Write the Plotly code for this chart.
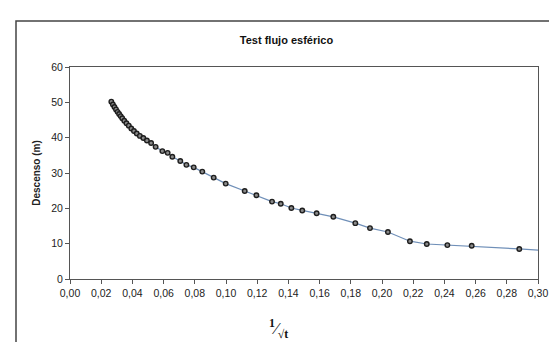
import plotly.graph_objects as go

inv_sqrt_t = [0.0265, 0.0275, 0.0285, 0.0295, 0.0305, 0.0315, 0.0325, 0.0335, 0.0348, 0.0362,
              0.0377, 0.0393, 0.0410, 0.0428, 0.0448, 0.0470, 0.0493, 0.0520, 0.0549, 0.0592,
              0.0626, 0.0656, 0.0707, 0.0746, 0.0793, 0.0848, 0.0921, 0.0998, 0.1120, 0.1195,
              0.1295, 0.1351, 0.1419, 0.1489, 0.1581, 0.1688, 0.1829, 0.1923, 0.2038, 0.2179,
              0.2287, 0.2419, 0.2575, 0.2880]
descenso = [50.2, 49.4, 48.7, 48.0, 47.3, 46.7, 46.1, 45.5, 44.8, 44.1,
            43.4, 42.6, 41.9, 41.2, 40.5, 39.9, 39.2, 38.5, 37.4, 36.2,
            35.7, 34.6, 33.4, 32.3, 31.6, 30.4, 28.7, 27.0, 24.9, 23.7,
            21.9, 21.3, 20.1, 19.4, 18.6, 17.6, 15.8, 14.4, 13.3, 10.7,
            9.9, 9.6, 9.4, 8.5]
line_x = inv_sqrt_t + [0.305]
line_y = descenso + [8.0]

x_ticks = [i * 0.02 for i in range(16)]
y_ticks = [0, 10, 20, 30, 40, 50, 60]

fig = go.Figure()
fig.add_trace(go.Scatter(x=line_x, y=line_y, mode="lines",
                         line=dict(color="#6f8fb8", width=1.2), hoverinfo="skip"))
fig.add_trace(go.Scatter(x=inv_sqrt_t, y=descenso, mode="markers",
                         marker=dict(symbol="circle", size=4.5, color="#8a8a8a",
                                     line=dict(color="#1e1e1e", width=1.4))))

font = "Liberation Sans Narrow, Liberation Sans, Arial, sans-serif"
fig.update_layout(
    width=557, height=342,
    margin=dict(l=62, r=27, t=59, b=71),
    paper_bgcolor="white", plot_bgcolor="white",
    showlegend=False,
    separators=", ",
    font=dict(family=font, size=10, color="#222"),
    title=dict(text="<b>Test flujo esférico</b>", x=0.5, xanchor="center", y=0.905, yanchor="middle",
               font=dict(family=font, size=11, color="#111")),
    xaxis=dict(range=[0, 0.30], tickvals=x_ticks, tickformat=".2f",
               showgrid=False, zeroline=False, showline=True, linecolor="#555", linewidth=1,
               mirror=True, ticks="outside", ticklen=4, tickcolor="#555",
               tickfont=dict(size=10.5, family=font)),
    yaxis=dict(range=[0, 60], tickvals=y_ticks, showgrid=False, zeroline=False,
               showline=True, linecolor="#555", linewidth=1, mirror=True,
               ticks="outside", ticklen=4, tickcolor="#555",
               title=dict(text="<b>Descenso (m)</b>", standoff=8,
                          font=dict(size=10, family=font)),
               tickfont=dict(size=10.5, family=font)),
)

fig.add_annotation(xref="paper", yref="paper", x=0.445, y=-0.30, showarrow=False,
                   text="<sup><b>1</b></sup>⁄<sub><b>√t</b></sub>",
                   font=dict(size=17, family="Liberation Serif, serif", color="#111"))

fig.add_shape(type="rect", xref="paper", yref="paper",
              x0=(8 - 62) / 468, x1=(550 - 62) / 468,
              y0=(271 - 341) / 212, y1=(271 - 13) / 212,
              line=dict(color="#444", width=1.5), layer="below")

fig.write_html("out.html")
